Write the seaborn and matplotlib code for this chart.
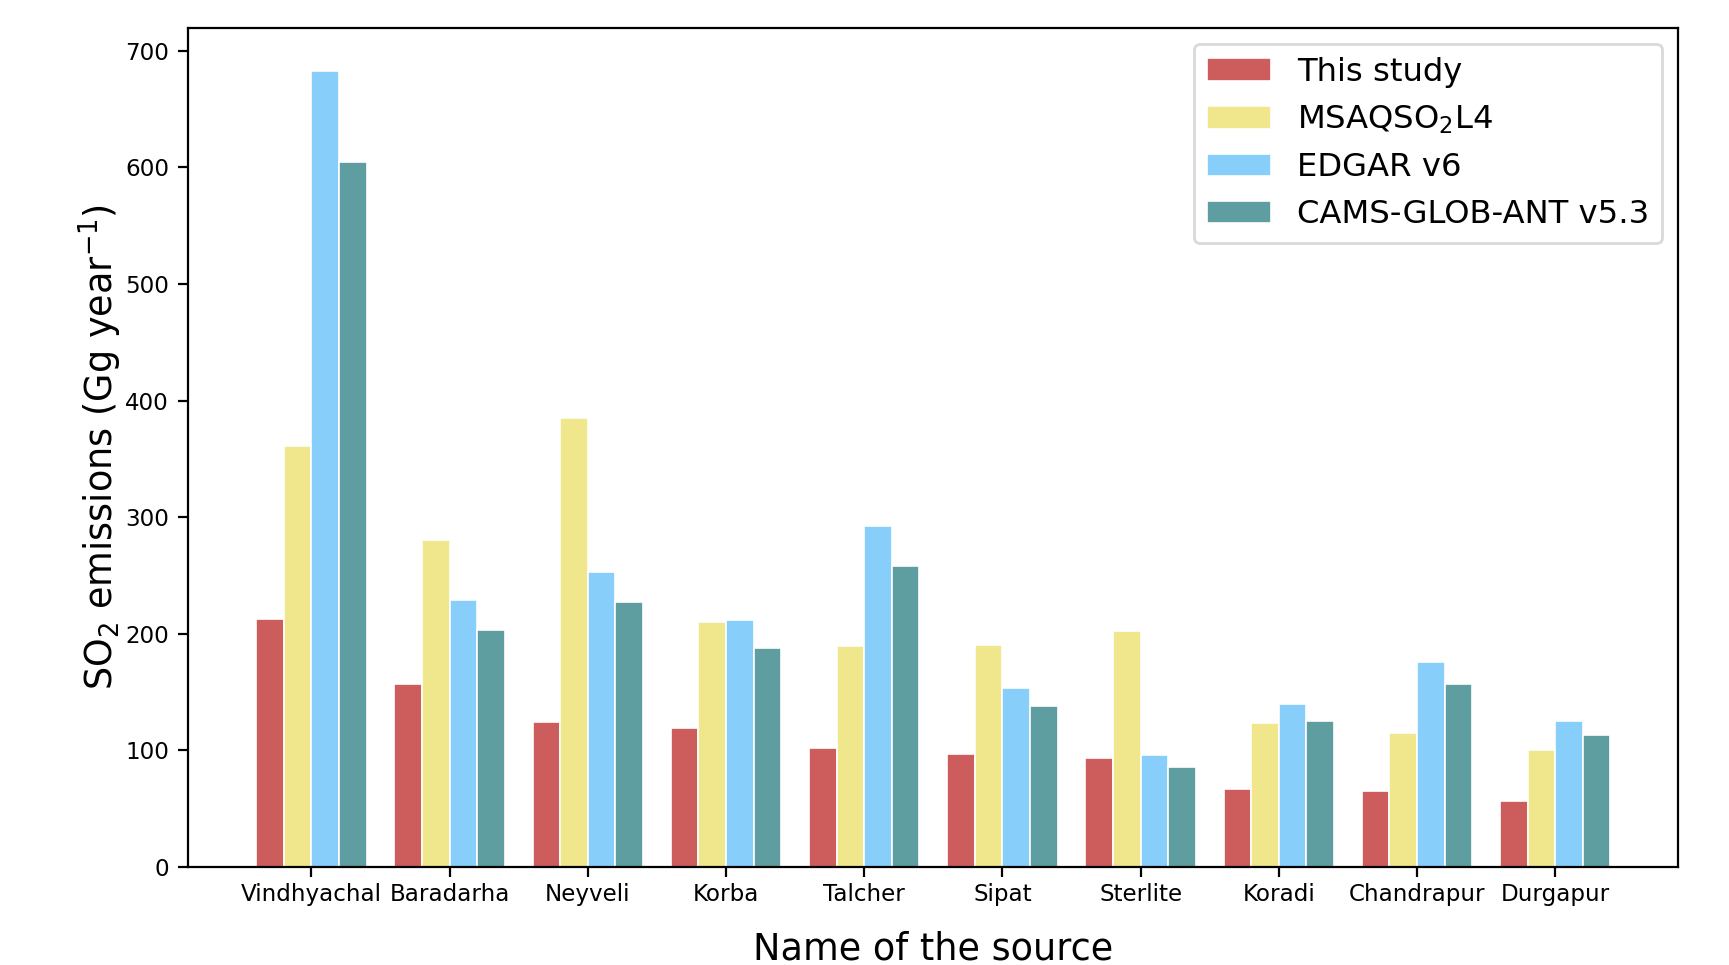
import numpy as np
import pandas as pd
import matplotlib
matplotlib.use("Agg")
import matplotlib.pyplot as plt
import seaborn as sns

sources = ["Vindhyachal", "Baradarha", "Neyveli", "Korba", "Talcher",
           "Sipat", "Sterlite", "Koradi", "Chandrapur", "Durgapur"]
series_names = ["This study", r"MSAQSO$_2$L4", "EDGAR v6", "CAMS-GLOB-ANT v5.3"]
this_study = [213, 157, 124, 119, 102, 97, 93, 67, 65, 56]
msaqso2l4 = [361, 280, 385, 210, 189, 190, 202, 123, 115, 100]
edgar_v6 = [683, 229, 253, 212, 292, 153, 96, 140, 176, 125]
cams_v53 = [605, 203, 227, 188, 258, 138, 86, 125, 157, 113]
colors = ["indianred", "khaki", "lightskyblue", "cadetblue"]

frames = []
for name, vals in zip(series_names, [this_study, msaqso2l4, edgar_v6, cams_v53]):
    frames.append(pd.DataFrame({"source": sources, "emission": vals, "dataset": name}))
df = pd.concat(frames, ignore_index=True)

sns.set_style("ticks")
plt.rcParams["font.family"] = ["DejaVu Sans"]
plt.rcParams.update({
    "text.color": "black",
    "axes.labelcolor": "black",
    "xtick.color": "black",
    "ytick.color": "black",
    "axes.edgecolor": "black",
})

fig, ax = plt.subplots(figsize=(8.645, 4.825), dpi=200)
fig.subplots_adjust(left=0.109, right=0.9706, top=0.9714, bottom=0.1018)

sns.barplot(data=df, x="source", y="emission", hue="dataset",
            hue_order=series_names, palette=colors, order=sources,
            saturation=1, edgecolor="white", linewidth=0.6, ax=ax,
            errorbar=None)

ax.set_xlim(-0.89, 9.89)
ax.set_ylim(0, 720)
ax.set_yticks(np.arange(0, 701, 100))
ax.tick_params(axis="both", labelsize=8.3, width=0.8, length=3.5)
ax.tick_params(axis="x", pad=2.5)
for s in ax.spines.values():
    s.set_visible(True)
    s.set_linewidth(0.8)
    s.set_color("black")

ax.set_xlabel("Name of the source", fontsize=13.2, labelpad=8.8)
ax.set_ylabel(r"SO$_2$ emissions (Gg year$^{-1}$)", fontsize=13.2, labelpad=0.5)

leg = ax.legend(loc="upper right", fontsize=11.6, frameon=True,
                labelspacing=0.5, borderaxespad=0.5)
leg.get_frame().set_edgecolor("#d0d0d0")

fig.savefig("out.png", dpi=200)
